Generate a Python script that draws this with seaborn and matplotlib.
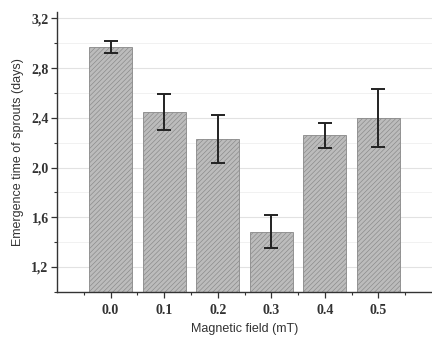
import numpy as np
import pandas as pd
import matplotlib
matplotlib.use("Agg")
import matplotlib.pyplot as plt
import seaborn as sns
from matplotlib.ticker import MultipleLocator, FuncFormatter

fields = ["0.0", "0.1", "0.2", "0.3", "0.4", "0.5"]
emergence = [2.97, 2.45, 2.23, 1.485, 2.26, 2.40]
errors = [0.045, 0.145, 0.195, 0.13, 0.10, 0.235]

sns.set_theme(style="white")
plt.rcParams["hatch.color"] = "#666666"
plt.rcParams["hatch.linewidth"] = 0.45

df = pd.DataFrame({"field": fields, "time": emergence})

fig = plt.figure(figsize=(4.32, 3.37), dpi=100)
ax = fig.add_axes([0.132, 0.134, 0.868, 0.83])

sns.barplot(data=df, x="field", y="time", color="#bcbcbc", width=0.8,
            edgecolor="#888888", linewidth=0.6, hatch="///////",
            saturation=1, ax=ax, zorder=2)
ax.errorbar(np.arange(len(fields)), emergence, yerr=errors, fmt="none",
            ecolor="#222222", elinewidth=1.4, capsize=5, capthick=1.4, zorder=3)

ax.set_xlim(-1, 6)
ax.set_ylim(1.0, 3.25)
ax.yaxis.set_major_locator(MultipleLocator(0.4))
ax.yaxis.set_minor_locator(MultipleLocator(0.2))
ax.yaxis.set_major_formatter(FuncFormatter(lambda v, p: f"{v:.1f}".replace(".", ",")))
ax.set_yticks([1.2, 1.6, 2.0, 2.4, 2.8, 3.2])
ax.set_xticks(np.arange(len(fields)))
ax.set_xticklabels(fields)
ax.set_xticks(np.arange(-0.5, 6, 1.0), minor=True)

ax.grid(axis="y", which="major", color="#e2e2e2", linewidth=0.8, zorder=0)
ax.grid(axis="y", which="minor", color="#efefef", linewidth=0.6, zorder=0)
ax.set_axisbelow(True)

for s in ["top", "right"]:
    ax.spines[s].set_visible(False)
for s in ["left", "bottom"]:
    ax.spines[s].set_color("#333333")
    ax.spines[s].set_linewidth(1.0)

ax.tick_params(axis="both", which="major", direction="out", length=4,
               width=0.9, color="#333333", labelsize=10, pad=2,
               left=True, bottom=True)
ax.tick_params(axis="both", which="minor", direction="out", length=2.5,
               width=0.8, color="#333333", left=True, bottom=True)
for lab in ax.get_xticklabels() + ax.get_yticklabels():
    lab.set_family("Liberation Serif")
    lab.set_fontweight("bold")
    lab.set_color("#333333")
ax.tick_params(axis="x", which="major", pad=5)

ax.set_xlabel("Magnetic field (mT)", fontsize=9, family="Liberation Sans",
              color="#333333", labelpad=4)
ax.set_ylabel("Emergence time of sprouts (days)", fontsize=9,
              family="Liberation Sans", color="#333333", labelpad=5)

fig.savefig("out.png", dpi=100)
